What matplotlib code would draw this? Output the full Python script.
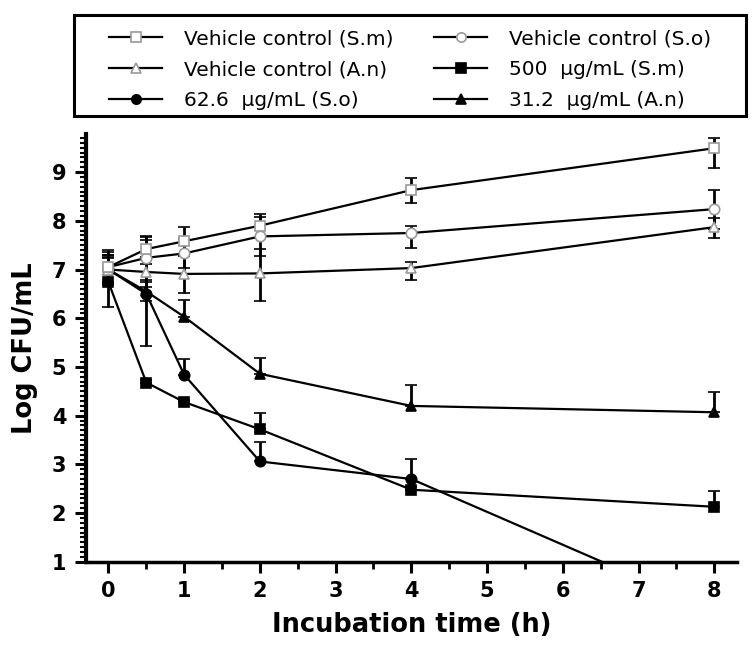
import numpy as np
import matplotlib.pyplot as plt
from matplotlib.patches import Rectangle
from matplotlib.ticker import MultipleLocator

# incubation time points (h)
time = [0, 0.5, 1, 2, 4, 8]

# log CFU/mL
veh_sm = [7.05, 7.42, 7.58, 7.90, 8.63, 9.49]
veh_so = [7.05, 7.24, 7.33, 7.68, 7.75, 8.24]
veh_an = [7.00, 6.95, 6.91, 6.92, 7.03, 7.87]
sm_500 = [6.74, 4.68, 4.28, 3.72, 2.48, 2.13]
so_626 = [7.00, 6.50, 4.84, 3.06, 2.70, 0.00]
an_312 = [7.00, 6.55, 6.03, 4.86, 4.20, 4.07]

# error bars (lower, upper)
veh_sm_lo = [0.30, 0.30, 0.30, 0.25, 0.27, 0.40]
veh_sm_hi = [0.30, 0.25, 0.30, 0.25, 0.25, 0.20]
veh_so_lo = [0.35, 0.45, 0.30, 0.40, 0.30, 0.40]
veh_so_hi = [0.35, 0.45, 0.30, 0.40, 0.15, 0.40]
veh_an_lo = [0.30, 0.30, 0.40, 0.56, 0.25, 0.22]
veh_an_hi = [0.30, 0.30, 0.40, 0.50, 0.13, 0.18]
sm_500_lo = [0.50, 0.00, 0.00, 0.00, 0.00, 0.00]
sm_500_hi = [0.50, 0.05, 0.05, 0.33, 0.05, 0.33]
so_626_lo = [0.30, 1.08, 0.00, 0.00, 0.00, 0.00]
so_626_hi = [0.30, 1.10, 0.33, 0.40, 0.42, 0.00]
an_312_lo = [0.25, 0.20, 0.00, 0.00, 0.00, 0.00]
an_312_hi = [0.25, 0.20, 0.35, 0.33, 0.43, 0.42]

labels = ['Vehicle control (S.m)', 'Vehicle control (S.o)', 'Vehicle control (A.n)',
          '500  \u03bcg/mL (S.m)', '62.6  \u03bcg/mL (S.o)', '31.2  \u03bcg/mL (A.n)']

fig = plt.figure(figsize=(7.52, 6.51), dpi=100)
ax = fig.add_axes([0.114, 0.137, 0.866, 0.657])

grey = '#9a9a9a'
series = [
    (sm_500, sm_500_lo, sm_500_hi, 's', 'black', 'black', labels[3]),
    (so_626, so_626_lo, so_626_hi, 'o', 'black', 'black', labels[4]),
    (an_312, an_312_lo, an_312_hi, '^', 'black', 'black', labels[5]),
    (veh_an, veh_an_lo, veh_an_hi, '^', 'white', grey, labels[2]),
    (veh_so, veh_so_lo, veh_so_hi, 'o', 'white', grey, labels[1]),
    (veh_sm, veh_sm_lo, veh_sm_hi, 's', 'white', grey, labels[0]),
]
handles = {}
for y, lo, hi, m, fc, ec, lab in series:
    eb = ax.errorbar(time, y, yerr=[lo, hi], fmt='-', color='black', lw=1.6,
                     marker=m, ms=7.5, mfc=fc, mec=ec, mew=1.2,
                     ecolor='black', elinewidth=2, capsize=4, capthick=2)
    handles[lab] = eb[0]

ax.set_xlim(-0.3, 8.3)
ax.set_ylim(1, 9.78)
ax.xaxis.set_major_locator(MultipleLocator(1))
ax.xaxis.set_minor_locator(MultipleLocator(0.5))
ax.yaxis.set_major_locator(MultipleLocator(1))
ax.yaxis.set_minor_locator(MultipleLocator(0.1))

ax.spines['top'].set_visible(False)
ax.spines['right'].set_visible(False)
ax.spines['left'].set_linewidth(3)
ax.spines['bottom'].set_linewidth(2.5)
ax.tick_params(axis='both', which='major', direction='out', length=8, width=2.2,
               labelsize=15, pad=6)
ax.tick_params(axis='x', which='minor', direction='out', length=5, width=2)
ax.tick_params(axis='y', which='minor', direction='out', length=4, width=1.5)
for t in ax.get_xticklabels() + ax.get_yticklabels():
    t.set_fontweight('bold')

ax.set_xlabel('Incubation time (h)', fontsize=18.5, fontweight='bold', labelpad=8)
ax.set_ylabel('Log CFU/mL', fontsize=18.5, fontweight='bold', labelpad=10)

# legend (row-major order in the picture -> column-major for matplotlib)
order = [labels[0], labels[2], labels[4], labels[1], labels[3], labels[5]]
leg = fig.legend([handles[k] for k in order], order, ncol=2, loc='upper left',
                 bbox_to_anchor=(0.145, 0.955), frameon=False,
                 fontsize=14.5, handlelength=2.64, markerscale=0.9,
                 labelspacing=0.6, borderpad=0, borderaxespad=0,
                 columnspacing=2.0, handletextpad=1.1)
# box around legend
fig.add_artist(Rectangle((0.098, 0.822), 0.894, 0.155, transform=fig.transFigure,
                         fill=False, edgecolor='black', linewidth=2.2))

fig.savefig('out.png', dpi=100)
